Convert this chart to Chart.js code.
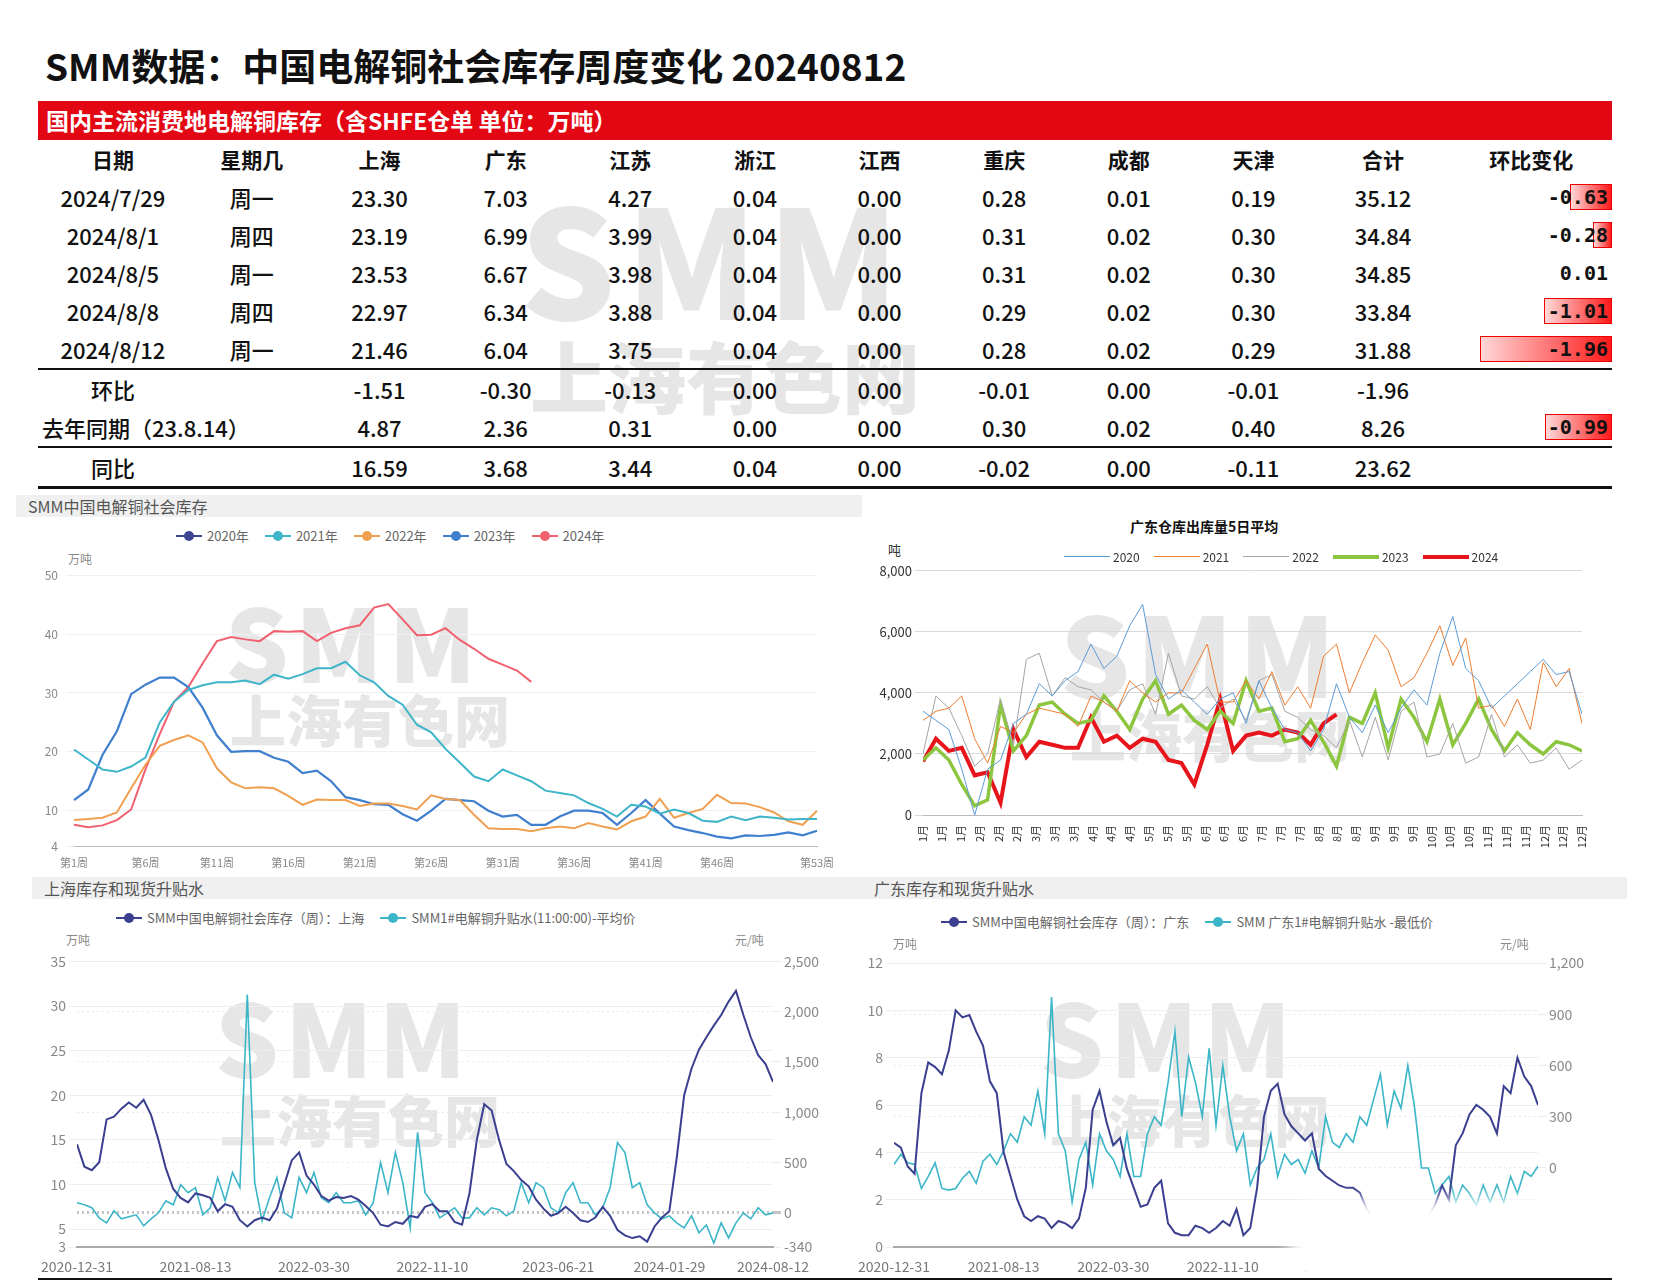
<!DOCTYPE html>
<html><head><meta charset="utf-8">
<script src="https://cdn.jsdelivr.net/npm/chart.js@4/dist/chart.umd.min.js"></script>
<style>
body{margin:0;width:1655px;height:1280px;background:#fff;font-family:"Noto Sans CJK SC","Noto Sans",sans-serif;position:relative;overflow:hidden}
.abs{position:absolute}
.wm{position:absolute;color:#e6e6e6;font-weight:900;font-family:"Noto Sans CJK SC",sans-serif;white-space:nowrap;line-height:1}
table{border-collapse:collapse;position:absolute;left:38px;top:140px;width:1574px;font-size:22px;color:#111}
td{text-align:center;height:38px;padding:0;font-weight:500}
tr.hdr td{font-weight:700;font-size:21px}
.chg{text-align:right;font-family:"DejaVu Sans Mono",monospace;font-weight:700;font-size:20px;position:relative;padding-right:4px}
.bar{position:absolute;right:0;top:6px;height:26px;background:linear-gradient(to right,#ffd8d8,#ff1a1a);border:1px solid #e00;box-sizing:border-box;z-index:-1}
.ptitle{position:absolute;background:#f0f0f0;color:#555;font-size:16px;height:22px;line-height:22px;padding-left:12px}
.leg{position:absolute;font-size:13px;color:#666;white-space:nowrap;display:flex;align-items:center}
.leg span.i{display:inline-block;position:relative;width:26px;height:2px;margin:0 5px 0 16px}
.leg span.i b{position:absolute;left:8px;top:-4px;width:10px;height:10px;border-radius:50%}
canvas{position:absolute}
</style></head><body>
<div class="wm" style="left:520px;top:180px;font-size:150px;letter-spacing:10px">SMM</div>
<div class="wm" style="left:530px;top:335px;font-size:78px">上海有色网</div>
<div class="wm" style="left:225px;top:590px;font-size:100px;letter-spacing:6px">SMM</div>
<div class="wm" style="left:230px;top:690px;font-size:56px">上海有色网</div>
<div class="wm" style="left:1060px;top:595px;font-size:110px;letter-spacing:6px">SMM</div>
<div class="wm" style="left:1070px;top:705px;font-size:56px">上海有色网</div>
<div class="wm" style="left:215px;top:985px;font-size:100px;letter-spacing:6px">SMM</div>
<div class="wm" style="left:220px;top:1090px;font-size:56px">上海有色网</div>
<div class="wm" style="left:1040px;top:985px;font-size:100px;letter-spacing:6px">SMM</div>
<div class="wm" style="left:1050px;top:1090px;font-size:56px">上海有色网</div>

<div class="abs" style="left:45px;top:38px;font-size:37px;font-weight:700;color:#111">SMM数据：中国电解铜社会库存周度变化 20240812</div>
<div class="abs" style="left:38px;top:101px;width:1574px;height:39px;background:#e30613;color:#fff;font-size:23px;font-weight:700;line-height:39px;padding-left:8px;box-sizing:border-box">国内主流消费地电解铜库存（含SHFE仓单 单位：万吨）</div>
<table id="tbl"></table>

<div class="ptitle" style="left:16px;top:495px;width:834px">SMM中国电解铜社会库存</div>
<div class="leg" id="leg1" style="left:160px;top:526px"></div>
<div class="abs" style="left:68px;top:550px;font-size:12px;color:#888">万吨</div>
<canvas id="c1" style="left:16px;top:560px"></canvas>

<div class="abs" style="left:1130px;top:516px;font-size:14px;font-weight:700;color:#111">广东仓库出库量5日平均</div>
<div class="abs" style="left:888px;top:540px;font-size:13px;color:#333">吨</div>
<div class="leg" id="leg2" style="left:1050px;top:548px;font-size:12px;color:#333"></div>
<canvas id="c2" style="left:850px;top:560px"></canvas>

<div class="ptitle" style="left:32px;top:877px;width:831px">上海库存和现货升贴水</div>
<div class="leg" id="leg3" style="left:100px;top:908px"></div>
<div class="abs" style="left:66px;top:931px;font-size:12px;color:#888">万吨</div>
<div class="abs" style="left:735px;top:931px;font-size:12px;color:#888">元/吨</div>
<canvas id="c3" style="left:20px;top:950px"></canvas>

<div class="ptitle" style="left:862px;top:877px;width:753px">广东库存和现货升贴水</div>
<div class="leg" id="leg4" style="left:925px;top:912px"></div>
<div class="abs" style="left:893px;top:935px;font-size:12px;color:#888">万吨</div>
<div class="abs" style="left:1500px;top:935px;font-size:12px;color:#888">元/吨</div>
<canvas id="c4" style="left:850px;top:950px"></canvas>
<div class="abs" style="left:1290px;top:1200px;width:330px;height:90px;background:#fff;filter:blur(8px);border-radius:30px"></div>
<div class="abs" style="left:38px;top:1278px;width:1574px;height:2px;background:#111"></div>

<script>
// ---------- table data ----------
const tblHeaders = ['日期','星期几','上海','广东','江苏','浙江','江西','重庆','成都','天津','合计','环比变化'];
const tblDates = ['2024/7/29','2024/8/1','2024/8/5','2024/8/8','2024/8/12'];
const tblWeekdays = ['周一','周四','周一','周四','周一'];
const tblRows = [
 [23.30,7.03,4.27,0.04,0.00,0.28,0.01,0.19,35.12],
 [23.19,6.99,3.99,0.04,0.00,0.31,0.02,0.30,34.84],
 [23.53,6.67,3.98,0.04,0.00,0.31,0.02,0.30,34.85],
 [22.97,6.34,3.88,0.04,0.00,0.29,0.02,0.30,33.84],
 [21.46,6.04,3.75,0.04,0.00,0.28,0.02,0.29,31.88]];
const tblChange = [-0.63,-0.28,0.01,-1.01,-1.96];
const rowHB = ['-1.51','-0.30','-0.13','0.00','0.00','-0.01','0.00','-0.01','-1.96'];
const rowLY = ['4.87','2.36','0.31','0.00','0.00','0.30','0.02','0.40','8.26'];
const lyChange = -0.99;
const rowTB = ['16.59','3.68','3.44','0.04','0.00','-0.02','0.00','-0.11','23.62'];

// ---------- chart 1 data ----------
const weeks53 = Array.from({length:53},(_,i)=>'第'+(i+1)+'周');
const weekTickShow = [1,6,11,16,21,26,31,36,41,46,53];
const inv2020 = [];
const inv2021 = [20.4,18.7,17,16.6,17.5,19,25,28.5,30.5,31.3,31.8,31.8,32.1,31.5,33.1,32.4,33.2,34.2,34.2,35.3,33,31.8,29.5,28,24.6,23.3,20.5,18.2,15.8,15,17,16,15,13.4,13,12.6,11.3,10.3,9,11,10.7,9.5,10.2,9.6,8.3,8.1,9,8.4,9,8.8,8.5,8.6,8.6];
const inv2022 = [8.4,8.6,8.8,9.7,13.8,17.8,21,22,22.8,21.6,17.2,14.8,13.8,14,13.8,12.5,11,11.9,11.8,11.8,10.8,11.2,11.2,10.8,10.2,12.6,12,11.8,9.3,7,6.9,6.9,6.5,7,7.3,7,7.9,7.3,6.8,8.2,9,12,8.8,9.6,10.3,12.7,11.3,11.2,10.6,9.7,8.2,7.6,10];
const inv2023 = [11.8,13.6,19.5,23.5,29.8,31.4,32.6,32.6,31,27.5,22.8,20,20.1,20.1,19,18.3,16.4,16.8,15,12.3,11.8,11.1,11,9.4,8.3,10,12,11.8,11.6,10,9,9.3,7.6,7.6,9,10,10,9.6,7.6,9.6,11.8,9.5,7.3,6.7,6.2,5.6,5.3,5.8,5.7,5.9,6.3,5.8,6.6];
const inv2024 = [7.6,7.2,7.5,8.4,10.2,17,23,28.5,31,35,38.8,39.5,39.1,38.8,40.5,40.4,40.5,38.8,40.2,41,41.5,44.5,45.1,42.5,39.8,39.9,41,39,37.5,35.8,34.8,33.8,31.88];
const yTicks1 = [4,10,20,30,40,50];

// ---------- chart 2 data (weekly points of 5-day average, 吨) ----------
const months12 = ['1月','2月','3月','4月','5月','6月','7月','8月','9月','10月','11月','12月'];
const out2020 = [3400,3100,2800,1500,0,1500,1800,3000,3300,4300,3900,4400,4700,5600,4800,5200,6200,6900,4600,3800,4100,3700,3300,3800,4000,3000,4400,3500,2800,2700,2100,2800,4300,3200,2700,3600,2700,3500,4100,3600,5300,6500,4800,4400,3500,3900,4300,4700,5100,4600,4700,3300];
const out2021 = [3100,3400,3500,3900,2500,1700,2900,2700,3300,3500,3400,3300,2900,3900,3700,3400,4400,4000,3700,4000,4000,4800,5600,3700,3700,4400,3800,4700,3600,4200,3500,5200,5600,4000,5000,5900,5400,4200,4500,5300,6200,4900,5800,3500,3600,2900,3800,2800,5000,4200,4800,3000];
const out2022 = [2000,3900,3500,2600,1600,2000,3800,2300,5100,5300,3900,4500,4200,4100,3700,3400,4100,4300,3300,5300,3900,3800,4200,3500,3800,3100,4400,4600,3400,3200,2800,2600,2200,3100,1900,3200,1800,3400,3700,1900,2000,3000,1700,1900,3300,1900,2300,1700,1800,2200,1500,1800];
const out2023 = [1800,2200,1800,1000,300,500,3600,2100,2600,3600,3700,3300,3000,3100,3900,3400,2800,3800,4400,3300,3600,3100,2800,3400,3000,4400,3400,3500,2400,2500,3100,2400,1600,3200,3000,4000,2200,3800,3200,2400,3800,2300,3000,3800,2800,2100,2700,2300,2000,2400,2300,2100];
const out2024 = [1750,2500,2100,2200,1300,1400,400,2800,1900,2400,2300,2200,2200,3200,2400,2600,2200,2500,2400,1800,1700,1000,2300,3800,2100,2600,2700,2600,2800,2700,2300,3000,3300];

// ---------- chart 3 / 4 data (every 2 weeks from 2020-12-31) ----------
const dateTicks = {0:'2020-12-31',32:'2021-08-13',64:'2022-03-30',96:'2022-11-10',130:'2023-06-21',160:'2024-01-29',188:'2024-08-12'};
const shInv = [14.5,12,11.6,12.5,17.3,17.6,18.5,19.2,18.6,19.5,17.8,15,11.8,9.5,8.5,8,9,8.8,8.5,7,7.8,7.5,6,5.3,6,6.3,6,7.3,10,12.7,13.6,11,10,8.7,8.2,8.6,8.5,8.7,8.3,7.6,6.8,5.5,5.3,5.8,5.6,6.5,6.3,7.5,7.8,7,7,5.8,5.5,9,15,19,18.3,15,12.3,11.5,10.5,9.8,8.3,7.3,6.5,6.8,7.5,6.8,6,5.8,6.3,7.5,6.5,4.9,4.3,4,4.2,3.6,5.3,6.3,7,13,20,23,25.1,26.5,27.8,29,30.5,31.7,29,26.5,24.5,23.5,21.5];
const shSpread = [100,80,50,-50,-100,20,-60,-40,-20,-130,-60,0,120,80,280,200,250,-20,50,350,120,400,250,2170,300,-80,150,350,0,-50,350,200,400,150,100,200,100,100,120,-20,100,500,200,600,300,-150,800,200,100,-50,0,50,-50,-50,50,-20,50,30,-30,20,300,100,300,250,50,0,200,300,100,100,-20,50,250,700,600,250,300,80,0,-60,-30,-100,-150,-30,-200,-120,-300,-100,-250,-100,0,-60,50,-20,0];
const gdInv = [4.4,4.2,3.4,3.1,6.5,7.8,7.6,7.3,8.3,10,9.7,9.8,9.1,8.5,7,6.5,4,3,2,1.3,1.1,1.3,1.2,0.8,1.1,1,0.8,1.2,2.5,5.8,6.6,5.3,4.3,4.6,3.3,2.5,1.7,1.8,2.5,2.8,1,0.6,0.5,0.5,0.9,0.8,0.6,0.8,1.1,0.9,1.6,0.5,0.8,2.5,5.5,6.6,6.9,5.6,5.1,4.8,4.5,4.8,3.3,3,2.8,2.6,2.5,2.5,2.3,1.6,1.2,0.8,0.6,0.5,0.5,0.6,0.8,1,1.3,1.8,2.6,2,4.3,4.8,5.6,6,5.8,5.5,4.8,6.8,6.5,8,7.2,6.8,6];
const gdSpread = [20,80,30,20,-120,-50,30,-120,-130,-120,-60,-20,-90,40,80,20,100,200,150,300,250,450,200,1000,200,100,-200,50,150,-100,200,100,50,-50,200,-50,-50,200,300,250,500,800,300,650,500,300,700,250,600,300,100,200,-100,0,50,200,-50,80,20,50,-30,100,0,300,150,120,200,150,300,250,400,550,250,450,350,600,350,0,0,-150,-100,-50,-200,-100,-150,-220,-100,-200,-100,-200,-50,-150,-20,-50,10];
const biWeeks = Array.from({length:95},(_,i)=>i*2);

// ---------- table build ----------
const tbl=document.getElementById('tbl');
const colW=[150,128,128,125,125,125,125,125,125,125,135,158];
function addRow(cells,opts={}){const tr=document.createElement('tr');if(opts.cls)tr.className=opts.cls;
 cells.forEach((c,i)=>{const td=document.createElement('td');td.style.width=colW[i]+'px';
  if(i===0&&opts.left){td.style.textAlign='left';td.style.paddingLeft='4px';}
  if(c&&typeof c==='object'){td.className='chg';td.innerHTML=c.html;} else td.textContent=c;tr.appendChild(td);});
 if(opts.border)tr.style.borderBottom=opts.border;tbl.appendChild(tr);}
function chgCell(v){const w=Math.abs(v)/1.96*132;const txt=v.toFixed(2);
 return {html:(v<0?'<div class="bar" style="width:'+w+'px"></div>':'')+'<span style="position:relative">'+txt+'</span>'};}
addRow(tblHeaders,{cls:'hdr'});
tblRows.forEach((r,k)=>addRow([tblDates[k],tblWeekdays[k],...r.map(v=>v.toFixed(2)),chgCell(tblChange[k])],{border:k===4?'2px solid #111':''}));
addRow(['环比','',...rowHB,'']);
addRow(['去年同期（23.8.14）','',...rowLY,chgCell(lyChange)],{left:true,border:'2px solid #111'});
addRow(['同比','',...rowTB,''],{border:'3px solid #111'});
const lyRow=tbl.rows[7];lyRow.cells[0].colSpan=2;lyRow.cells[0].style.whiteSpace='nowrap';lyRow.deleteCell(1);

// ---------- legends ----------
function legend(id,items,dot){document.getElementById(id).innerHTML=items.map(([c,t])=>'<span class="i" style="background:'+c+'">'+(dot?'<b style="background:'+c+'"></b>':'')+'</span>'+t).join('');}
const col1={y2020:'#3d4690',y2021:'#3fb5c9',y2022:'#f0a050',y2023:'#3f7fce',y2024:'#f0606e'};
legend('leg1',[[col1.y2020,'2020年'],[col1.y2021,'2021年'],[col1.y2022,'2022年'],[col1.y2023,'2023年'],[col1.y2024,'2024年']],true);
const col2={a:'#5b9bd5',b:'#ed7d31',c:'#a5a5a5',d:'#8cc63f',e:'#e8141b'};
document.getElementById('leg2').innerHTML=[[col2.a,'2020',1],[col2.b,'2021',1],[col2.c,'2022',1],[col2.d,'2023',4],[col2.e,'2024',4]].map(([c,t,w])=>'<span style="display:inline-block;width:46px;height:'+w+'px;background:'+c+';margin:0 3px 0 14px"></span>'+t).join('');
const navy='#3a3f8f',cyan='#3bb5c8';
legend('leg3',[[navy,'SMM中国电解铜社会库存（周）：上海'],[cyan,'SMM1#电解铜升贴水(11:00:00)-平均价']],true);
legend('leg4',[[navy,'SMM中国电解铜社会库存（周）：广东'],[cyan,'SMM 广东1#电解铜升贴水 -最低价']],true);

Chart.defaults.font.family='"Noto Sans CJK SC","Noto Sans",sans-serif';
Chart.defaults.color='#888';
Chart.defaults.animation=false;
function setSize(id,w,h){const c=document.getElementById(id);c.style.width=w+'px';c.style.height=h+'px';c.width=w;c.height=h;return c;}
const noLeg={legend:{display:false},tooltip:{enabled:false}};

// chart 1
const ln=(d,c,w)=>({data:d,borderColor:c,backgroundColor:c,borderWidth:w,pointRadius:0,tension:0,fill:false});
new Chart(setSize('c1',846,310),{type:'line',
 data:{labels:weeks53,datasets:[ln(inv2020,col1.y2020,2),ln(inv2021,col1.y2021,2),ln(inv2022,col1.y2022,2),ln(inv2023,col1.y2023,2.2),ln(inv2024,col1.y2024,2)]},
 options:{responsive:false,plugins:noLeg,layout:{padding:{top:13,right:45}},
  scales:{x:{offset:false,grid:{display:false},border:{color:'#bbb'},ticks:{autoSkip:false,maxRotation:0,font:{size:11},padding:2,callback:(v,i)=>weekTickShow.includes(i+1)?weeks53[i]:''},afterFit:s=>{s.height=24}},
   y:{min:4,max:50,afterBuildTicks:s=>{s.ticks=yTicks1.map(v=>({value:v}))},grid:{color:'#eef0f4'},border:{display:false},ticks:{font:{size:12},padding:8},afterFit:s=>{s.width=58}}}}});

// chart 2
const wk=a=>a.map((v,i)=>({x:i,y:v}));
new Chart(setSize('c2',770,300),{type:'line',
 data:{datasets:[ln(wk(out2020),col2.a,1),ln(wk(out2021),col2.b,1),ln(wk(out2022),col2.c,1),ln(wk(out2023),col2.d,3.5),ln(wk(out2024),col2.e,4)]},
 options:{responsive:false,plugins:noLeg,layout:{padding:{top:8,right:38}},
  scales:{x:{type:'linear',min:0,max:51,grid:{display:false},border:{color:'#bbb'},
    afterBuildTicks:s=>{s.ticks=Array.from({length:36},(_,i)=>({value:i*51/35}))},
    ticks:{autoSkip:false,maxRotation:90,minRotation:90,font:{size:11},color:'#333',padding:2,callback:(v,i)=>months12[Math.floor(i/3)]},afterFit:s=>{s.height=45}},
   y:{min:0,max:8000,ticks:{stepSize:2000,font:{size:13},color:'#333',callback:v=>v.toLocaleString('en-US')},grid:{color:'#d9d9d9'},border:{display:false},afterFit:s=>{s.width=73}}}}});

// chart 3 & 4
const xy=(a)=>a.map((v,i)=>({x:biWeeks[i],y:v}));
function dual(id,w,pad,leftW,rightW,inv,spr,lmin,lmax,lticks,rmin,rmax,rticks,zeroLine){
 new Chart(setSize(id,w,330),{type:'line',
  data:{datasets:[{...ln(xy(inv),navy,2),yAxisID:'y'},{...ln(xy(spr),cyan,1.6),yAxisID:'y1'}]},
  options:{responsive:false,plugins:noLeg,layout:{padding:{top:pad}},
   scales:{x:{type:'linear',min:0,max:188,grid:{display:false},border:{color:'#aaa',width:2},
     afterBuildTicks:s=>{s.ticks=Object.keys(dateTicks).map(k=>({value:+k}))},
     ticks:{autoSkip:false,maxRotation:0,font:{size:14},color:'#777',callback:v=>dateTicks[v]},afterFit:s=>{s.height=33}},
    y:{position:'left',min:lmin,max:lmax,afterBuildTicks:s=>{s.ticks=lticks.map(v=>({value:v}))},grid:{color:'#eceef2'},border:{display:false},ticks:{font:{size:14},color:'#888'},afterFit:s=>{s.width=leftW}},
    y1:{position:'right',min:rmin,max:rmax,afterBuildTicks:s=>{s.ticks=rticks.map(v=>({value:v}))},
     grid:{color:c=>zeroLine&&c.tick&&c.tick.value===0?'#c4c4c4':'#e8eaee',lineWidth:c=>zeroLine&&c.tick&&c.tick.value===0?3:1},border:{display:false,dash:[2,3]},
     ticks:{font:{size:14},color:'#888',callback:v=>v.toLocaleString('en-US')},afterFit:s=>{s.width=rightW}}}}});
}
dual('c3',840,11,57,87,shInv,shSpread,3,35,[3,5,10,15,20,25,30,35],-340,2500,[-340,0,500,1000,1500,2000,2500],true);
dual('c4',780,13,44,92,gdInv,gdSpread,0,12,[0,2,4,6,8,10,12],-463,1200,[0,300,600,900,1200],false);
</script>
</body></html>
